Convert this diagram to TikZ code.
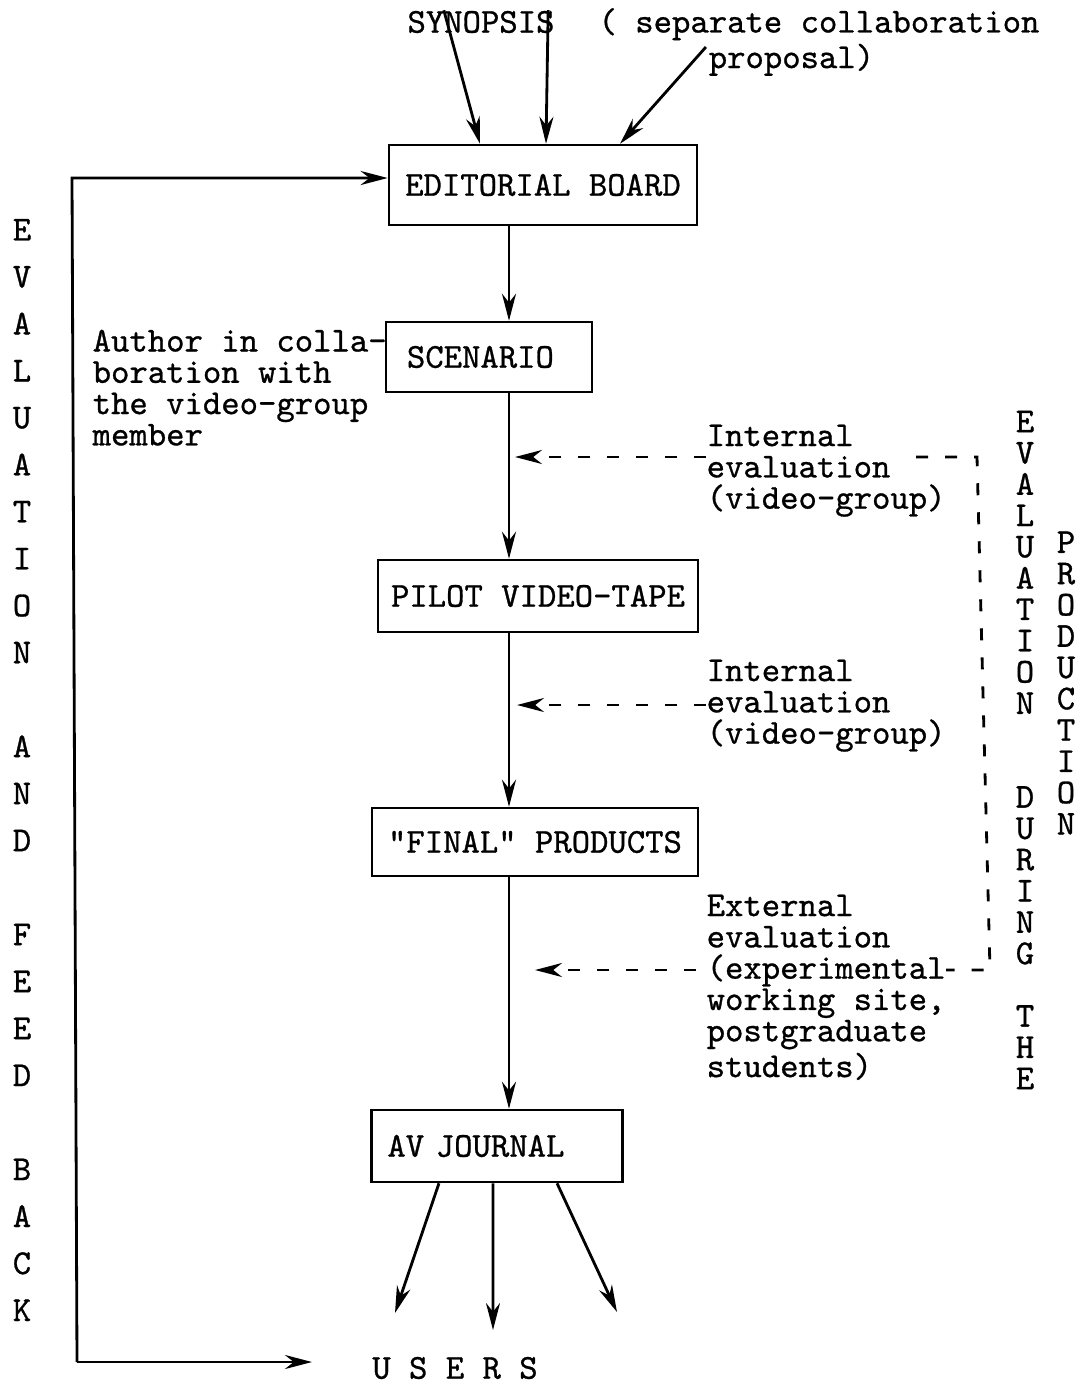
\documentclass[tikz,border=0pt]{standalone}
\usepackage{fontspec}
\newfontfamily\typewriter{lmmono10-regular.otf}[FakeBold=0.8]
\usetikzlibrary{arrows.meta, positioning}

\begin{document}
\begin{tikzpicture}[
    x=0.01cm, y=-0.01cm,
    font=\typewriter\fontsize{9.95}{8.9}\selectfont,
    box/.style={rectangle, draw, line width=0.7pt, minimum height=0.72cm, inner sep=0.1cm},
    txt/.style={inner sep=0pt, align=left},
    letters/.style={inner sep=0pt, align=center},
    arrow/.style={-{Stealth[length=0.27cm, width=0.14cm]}, line width=0.8pt},
    evalline/.style={line width=0.8pt, dash pattern=on 0.12cm off 0.17cm},
    evalarrow/.style={arrow, evalline}
]
\useasboundingbox (0,0) rectangle (1078,1387);

% production chain
\node[box, minimum width=3.08cm, minimum height=0.8cm] (board) at (543,185) {EDITORIAL BOARD};
\node[box, inner xsep=0.21cm, text width=1.64cm, align=left, minimum height=0.7cm] (scen) at (489,357) {SCENARIO};
\node[box, minimum width=3.2cm] (pilot) at (538,596) {PILOT VIDEO-TAPE};
\node[box, minimum width=3.26cm, minimum height=0.68cm] (final) at (535,842) {"FINAL" PRODUCTS};
\node[box, inner xsep=0.16cm, text width=2.19cm, align=left] (journal) at (497,1146) {\mbox{AV JOURNAL}};

% texts
\node[txt] (synopsis) at (481,22) {SYNOPSIS};
\node[txt] (proposal) at (819,42) {( separate collaboration\\\phantom{( sepa}proposal)};
\node[txt, anchor=north west] (author) at (92,329) {Author in colla-\\boration with\\the video-group\\member};
\node[txt, anchor=north west] (int1) at (706,424) {Internal\\evaluation\\(video-group)};
\node[txt, anchor=north west] (int2) at (706,659) {Internal\\evaluation\\(video-group)};
\node[txt, anchor=north west] (ext) at (706,894) {External\\evaluation\\(experimental\\working site,\\postgraduate\\students)};
\node[txt] (users) at (455,1368) {U S E R S};

% vertical captions
\node[letters, font=\typewriter\fontsize{9.95}{13.36}\selectfont] (feedback) at (22,770)
  {E\\V\\A\\L\\U\\A\\T\\I\\O\\N\\[13.36pt]A\\N\\D\\[13.36pt]F\\E\\E\\D\\[13.36pt]B\\A\\C\\K};
\node[letters] (during) at (1025,750)
  {E\\V\\A\\L\\U\\A\\T\\I\\O\\N\\[17.76pt]D\\U\\R\\I\\N\\G\\[8.88pt]T\\H\\E};
\node[letters] (production) at (1066,683) {P\\R\\O\\D\\U\\C\\T\\I\\O\\N};

% helper points
\coordinate (spine) at (509,0);
\coordinate (evin1) at (515,457);
\coordinate (evin2) at (517,705);
\coordinate (evin3) at (535,970);
\coordinate (evtop) at (977,457);
\coordinate (evbot) at (990,970);
\coordinate (fbtop) at (72,178);
\coordinate (fbbot) at (77,1362);
\coordinate (usersin) at (312,1362);
\coordinate (use1) at (395,1313);
\coordinate (use2) at (493,1330);
\coordinate (use3) at (617,1312);

% inputs
\draw[arrow] ([xshift=0.37cm]synopsis.north west) -- ([xshift=-0.63cm]board.north);
\draw[arrow] ([xshift=-0.07cm]synopsis.north east) -- ([xshift=0.03cm]board.north);
\draw[arrow] ([xshift=1.08cm, yshift=-0.05cm]proposal.west) -- ([xshift=0.77cm]board.north);

% main flow
\draw[arrow] (board.south -| spine) -- (scen.north -| spine);
\draw[arrow] (scen.south -| spine) -- (pilot.north -| spine);
\draw[arrow] (pilot.south -| spine) -- (final.north -| spine);
\draw[arrow] (final.south -| spine) -- (journal.north -| spine);

% to users
\draw[arrow] ([xshift=-0.58cm]journal.south) -- (use1);
\draw[arrow] ([xshift=-0.04cm]journal.south) -- (use2);
\draw[arrow] ([xshift=0.6cm]journal.south) -- (use3);

% evaluations
\draw[evalarrow] (int1.west |- evin1) -- (evin1);
\draw[evalarrow] (int2.west |- evin2) -- (evin2);
\draw[evalarrow] ([xshift=-0.1cm]ext.west |- evin3) -- (evin3);
\draw[evalline] ([xshift=-0.3cm]int1.east |- evtop) -- (evtop) -- (evbot) -- (ext.east |- evbot);

% feedback loop
\draw[arrow] (fbbot) -- (fbtop) -- (board.west |- fbtop);
\draw[arrow] (fbbot) -- (usersin);
\end{tikzpicture}
\end{document}
